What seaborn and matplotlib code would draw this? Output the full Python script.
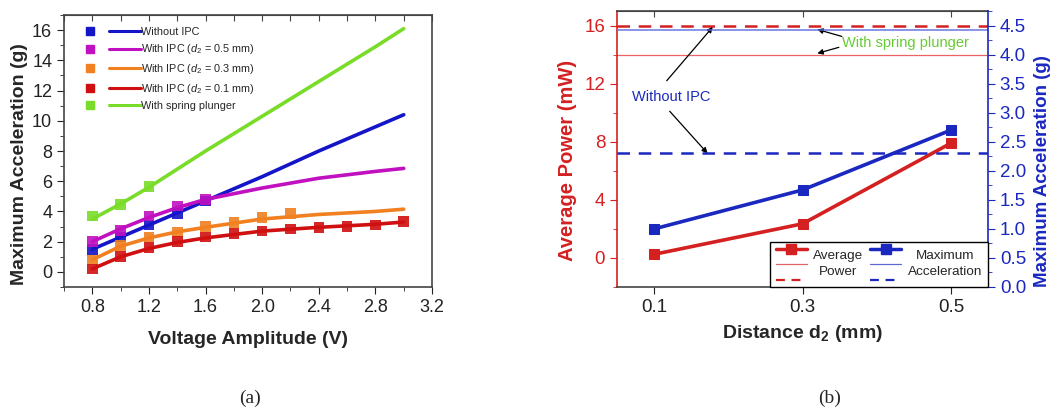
import numpy as np
import pandas as pd
import matplotlib
matplotlib.use("Agg")
import matplotlib.pyplot as plt
import seaborn as sns
from matplotlib.lines import Line2D
from matplotlib.legend_handler import HandlerBase
from matplotlib.ticker import MultipleLocator, FormatStrFormatter

sns.set_style("ticks")
plt.rcParams['font.family'] = ['Liberation Sans', 'DejaVu Sans']
plt.rcParams['mathtext.fontset'] = 'custom'
plt.rcParams['mathtext.rm'] = 'Liberation Sans'
plt.rcParams['mathtext.it'] = 'Liberation Sans:italic'
plt.rcParams['mathtext.bf'] = 'Liberation Sans:bold'

# ---- panel (a) data: measured points ----
v_blue = [0.8, 1.0, 1.2, 1.4, 1.6]
a_blue = [1.5, 2.3, 3.1, 3.85, 4.7]
v_mag = [0.8, 1.0, 1.2, 1.4, 1.6]
a_mag = [2.0, 2.75, 3.7, 4.35, 4.8]
v_orange = [0.8, 1.0, 1.2, 1.4, 1.6, 1.8, 2.0, 2.2]
a_orange = [0.8, 1.75, 2.3, 2.65, 3.0, 3.25, 3.6, 3.85]
v_red = [0.8, 1.0, 1.2, 1.4, 1.6, 1.8, 2.0, 2.2, 2.4, 2.6, 2.8, 3.0]
a_red = [0.2, 1.0, 1.6, 2.0, 2.3, 2.55, 2.7, 2.85, 2.95, 3.0, 3.1, 3.35]
v_green = [0.8, 1.0, 1.2]
a_green = [3.7, 4.45, 5.65]

# ---- panel (a) fitted curves ----
fit_v = [0.8, 1.0, 1.2, 1.4, 1.6, 2.0, 2.4, 2.8, 3.0]
fit_blue = [1.5, 2.3, 3.1, 3.9, 4.7, 6.3, 8.0, 9.6, 10.4]
fit_mag = [2.0, 2.85, 3.6, 4.25, 4.8, 5.55, 6.2, 6.65, 6.85]
fit_orange = [0.8, 1.7, 2.25, 2.65, 2.95, 3.5, 3.8, 4.0, 4.15]
fit_red = [0.2, 1.0, 1.55, 1.95, 2.25, 2.7, 2.95, 3.15, 3.3]
fit_green = [3.5, 4.5, 5.6, 6.8, 8.0, 10.3, 12.6, 14.9, 16.1]

labels_a = ["Without IPC", "With IPC ($d_2$ = 0.5 mm)", "With IPC ($d_2$ = 0.3 mm)",
            "With IPC ($d_2$ = 0.1 mm)", "With spring plunger"]

# ---- panel (b) data ----
d2 = [0.1, 0.3, 0.5]
power = [0.25, 2.35, 7.9]
accel = [1.0, 1.67, 2.7]
power_no_ipc = 16.0
power_spring = 14.0
accel_no_ipc = 2.3
accel_spring = 4.42

C_BLUE = '#1414c8'
C_MAG = '#c010c0'
C_ORANGE = '#f08020'
C_RED = '#d01010'
C_GREEN = '#78dc28'
R_RED = '#d42020'
R_BLUE = '#1a28c0'
SPINE = '#444444'


class MarkLineHandler(HandlerBase):
    def create_artists(self, legend, orig_handle, xdescent, ydescent,
                       width, height, fontsize, trans):
        c = orig_handle.get_color()
        y = height / 2 - ydescent
        mk = Line2D([-xdescent + width * 0.06], [y], marker='s', ms=6,
                    color=c, ls='none', transform=trans)
        ln = Line2D([-xdescent + width * 0.42, -xdescent + width], [y, y],
                    color=c, lw=2.2, transform=trans)
        return [mk, ln]


class StackHandler(HandlerBase):
    def create_artists(self, legend, orig_handle, xdescent, ydescent,
                       width, height, fontsize, trans):
        c = orig_handle.get_color()
        x0, x1 = -xdescent, -xdescent + width
        ys = [height * 0.98 - ydescent, height * 0.5 - ydescent, height * 0.02 - ydescent]
        top = Line2D([x0, x1], [ys[0]] * 2, color=c, lw=2.5, transform=trans)
        topm = Line2D([(x0 + x1) / 2], [ys[0]], color=c, marker='s', ms=6.5,
                      ls='none', transform=trans)
        mid = Line2D([x0, x1], [ys[1]] * 2, color=c, lw=0.9, alpha=0.7, transform=trans)
        bot = Line2D([x0, x1], [ys[2]] * 2, color=c, lw=1.6, ls=(0, (4, 3)), transform=trans)
        return [top, topm, mid, bot]


fig = plt.figure(figsize=(10.62, 4.09), dpi=100)
ax = fig.add_axes([0.0603, 0.2983, 0.3465, 0.665])

series = [(v_blue, a_blue, fit_blue, C_BLUE), (v_mag, a_mag, fit_mag, C_MAG),
          (v_orange, a_orange, fit_orange, C_ORANGE), (v_red, a_red, fit_red, C_RED),
          (v_green, a_green, fit_green, C_GREEN)]
handles = []
for (vx, ay, fy, c), lab in zip(series, labels_a):
    sns.lineplot(x=fit_v, y=fy, ax=ax, color=c, lw=2.6, sort=False)
    sns.scatterplot(x=vx, y=ay, ax=ax, color=c, marker='s', s=58,
                    edgecolor='none', alpha=0.9, zorder=3)
    handles.append(Line2D([], [], color=c))

ax.set_xlim(0.6, 3.2)
ax.set_ylim(-1, 17)
ax.xaxis.set_major_locator(MultipleLocator(0.4))
ax.xaxis.set_minor_locator(MultipleLocator(0.2))
ax.yaxis.set_major_locator(MultipleLocator(2))
ax.yaxis.set_minor_locator(MultipleLocator(1))
ax.xaxis.set_major_formatter(FormatStrFormatter('%.1f'))
ax.tick_params(which='both', direction='out', colors='#222222', labelsize=13)
ax.tick_params(which='major', length=5)
ax.tick_params(which='minor', length=3)
for s in ax.spines.values():
    s.set_color(SPINE)
    s.set_linewidth(1.2)
top = ax.secondary_xaxis('top')
top.xaxis.set_major_locator(MultipleLocator(0.2))
top.tick_params(direction='in', length=4, labeltop=False, colors=SPINE)
top.spines['top'].set_color(SPINE)
ax.set_xlabel("Voltage Amplitude (V)", fontsize=14, fontweight='bold', labelpad=11)
ax.set_ylabel("Maximum Acceleration (g)", fontsize=14, fontweight='bold', labelpad=3)
ax.yaxis.label.set_y(0.452)
leg = ax.legend(handles, labels_a, loc='upper left', bbox_to_anchor=(0.04, 0.985),
                handler_map={Line2D: MarkLineHandler()}, frameon=False,
                fontsize=7.8, handlelength=5.0, handletextpad=0.0, labelspacing=0.52,
                borderpad=0.2)

# ---- panel (b) ----
bx = fig.add_axes([0.581, 0.2983, 0.3493, 0.6748])
bx2 = bx.twinx()
sns.lineplot(x=d2, y=power, ax=bx, color=R_RED, lw=2.6, marker='s', markersize=7.5,
             markeredgecolor=R_RED)
sns.lineplot(x=d2, y=accel, ax=bx2, color=R_BLUE, lw=2.6, marker='s', markersize=7.5,
             markeredgecolor=R_BLUE)
bx.axhline(power_no_ipc, color=R_RED, lw=1.8, ls=(0, (5, 3.5)))
bx.axhline(power_spring, color='#e84848', lw=0.9, alpha=0.85)
bx2.axhline(accel_no_ipc, color=R_BLUE, lw=1.8, ls=(0, (5, 3.5)))
bx2.axhline(accel_spring, color='#5a6ae0', lw=1.1, alpha=0.9)

bx.set_xlim(0.05, 0.55)
bx.set_ylim(-2, 17)
bx2.set_ylim(0, 4.75)
bx.set_xticks(d2)
bx.xaxis.set_major_formatter(FormatStrFormatter('%.1f'))
bx.yaxis.set_major_locator(MultipleLocator(4))
bx.yaxis.set_minor_locator(MultipleLocator(2))
bx2.yaxis.set_major_locator(MultipleLocator(0.5))
bx2.yaxis.set_minor_locator(MultipleLocator(0.25))
bx2.yaxis.set_major_formatter(FormatStrFormatter('%.1f'))
bx.tick_params(axis='x', direction='out', length=5, colors='#222222', labelsize=13.5)
bx.tick_params(axis='y', which='both', direction='out', colors=R_RED, labelsize=13.5)
bx.tick_params(axis='y', which='major', length=5)
bx.tick_params(axis='y', which='minor', length=3)
bx2.tick_params(axis='y', which='both', direction='out', colors=R_BLUE, labelsize=13.5)
bx2.tick_params(axis='y', which='major', length=5)
bx2.tick_params(axis='y', which='minor', length=3)
for s in ['top', 'bottom']:
    bx.spines[s].set_color(SPINE)
    bx.spines[s].set_linewidth(1.2)
bx.spines['left'].set_color(R_RED)
bx.spines['left'].set_linewidth(1.2)
bx.spines['right'].set_visible(False)
bx2.spines['left'].set_visible(False)
bx2.spines['top'].set_visible(False)
bx2.spines['bottom'].set_visible(False)
bx2.spines['right'].set_color(R_BLUE)
bx2.spines['right'].set_linewidth(1.2)
btop = bx.secondary_xaxis('top')
btop.set_xticks(d2)
btop.tick_params(direction='in', length=4, labeltop=False, colors=SPINE)
btop.spines['top'].set_color(SPINE)

bx.set_xlabel("Distance d$_\\mathbf{2}$ (mm)", fontsize=14, fontweight='bold', labelpad=5)
bx.set_ylabel("Average Power (mW)", fontsize=14.5, fontweight='bold', color=R_RED, labelpad=5)
bx.yaxis.label.set_y(0.457)
bx2.set_ylabel("Maximum Acceleration (g)", fontsize=13.5, fontweight='bold', color=R_BLUE, labelpad=6)
bx2.yaxis.label.set_y(0.42)

arrow = dict(arrowstyle='-|>', color='black', lw=0.9, mutation_scale=8, shrinkA=0, shrinkB=0)
bx.text(0.1225, 11.1, "Without IPC", color=R_BLUE, fontsize=10.5, ha='center', va='center')
bx.annotate('', xy=(0.179, 15.9), xytext=(0.117, 12.2), arrowprops=arrow)
bx.annotate('', xy=(0.172, 7.2), xytext=(0.121, 10.1), arrowprops=arrow)
bx.text(0.439, 14.83, "With spring plunger", color='#66cc33', fontsize=10.5, ha='center', va='center')
bx.annotate('', xy=(0.32, 15.73), xytext=(0.353, 15.25), arrowprops=arrow)
bx.annotate('', xy=(0.32, 14.08), xytext=(0.349, 14.5), arrowprops=arrow)

lh = [Line2D([], [], color=R_RED), Line2D([], [], color=R_BLUE)]
bleg = bx2.legend(lh, ["Average\nPower", "Maximum\nAcceleration"], loc='lower right',
                  borderaxespad=0, ncol=2, handler_map={Line2D: StackHandler()},
                  fontsize=9.7, handlelength=2.3, handleheight=3.4, handletextpad=0.45,
                  columnspacing=0.55, fancybox=False, framealpha=1, borderpad=0.45)
bleg.get_frame().set_edgecolor('black')
bleg.get_frame().set_linewidth(1.0)
for t in bleg.get_texts():
    t.set_multialignment('center')
    t.set_linespacing(1.4)

fig.text(0.2354, 0.027, "(a)", fontsize=14, family='Liberation Serif', ha='center', va='center')
fig.text(0.7815, 0.027, "(b)", fontsize=14, family='Liberation Serif', ha='center', va='center')

fig.savefig("out.png", dpi=100)
